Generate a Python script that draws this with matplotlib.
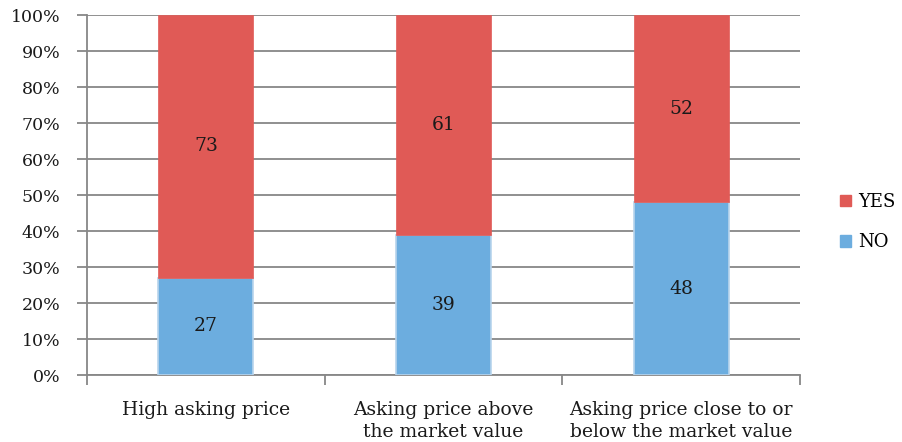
import matplotlib.pyplot as plt
import numpy as np
from matplotlib.patches import Patch

categories = ["High asking price", "Asking price above\nthe market value",
              "Asking price close to or\nbelow the market value"]
no_vals = [27, 39, 48]
yes_vals = [73, 61, 52]

red = "#E05A56"
blue = "#6CADDF"
grid_c = "#878787"
txt_c = "#1a1a1a"

plt.rcParams['font.family'] = ['DejaVu Serif']

fig = plt.figure(figsize=(9.02, 4.42), dpi=100)
ax = fig.add_axes([87/902, 1-375/442, (800-87)/902, 360/442])

x = np.arange(len(categories))
ax.bar(x, no_vals, width=0.4, color=blue, edgecolor="#B8D4EC", linewidth=1.2,
       zorder=3, label="NO")
ax.bar(x, yes_vals, width=0.4, bottom=no_vals, color=red, edgecolor=red,
       linewidth=0.5, zorder=3, label="YES")

for i in range(len(categories)):
    ax.text(x[i], no_vals[i] / 2, str(no_vals[i]), ha="center", va="center",
            fontsize=13.5, color=txt_c, zorder=4)
    ax.text(x[i], no_vals[i] + yes_vals[i] / 2, str(yes_vals[i]), ha="center",
            va="center", fontsize=13.5, color=txt_c, zorder=4)

ax.set_xlim(-0.5, 2.5)
ax.set_ylim(0, 100)
ax.set_yticks(np.arange(0, 101, 10))
ax.set_yticklabels([f"{v}%" for v in range(0, 101, 10)], fontsize=12.5, color=txt_c)
ax.yaxis.grid(True, color=grid_c, linewidth=1.3, zorder=0)
ax.set_axisbelow(True)

# category labels between boundary ticks
ax.set_xticks([-0.5, 0.5, 1.5, 2.5])
ax.set_xticklabels([])
ax.set_xticks(x, minor=True)
ax.set_xticklabels(categories, minor=True, fontsize=13.5, color=txt_c,
                   linespacing=1.25)
ax.tick_params(axis="x", which="minor", length=0, pad=19)
ax.tick_params(axis="x", which="major", length=7, width=1.3, color=grid_c)
ax.tick_params(axis="y", length=7, width=1.3, color=grid_c, pad=12)

for s in ["top", "right"]:
    ax.spines[s].set_visible(False)
for s in ["left", "bottom"]:
    ax.spines[s].set_color(grid_c)
    ax.spines[s].set_linewidth(1.3)

handles = [Patch(color=red, label="YES"), Patch(color=blue, label="NO")]
fig.legend(handles=handles, loc="center left", bbox_to_anchor=(824/902, 1-222/442),
           frameon=False, fontsize=13, handlelength=0.6, handleheight=0.6,
           handletextpad=0.4, labelspacing=1.25)

fig.savefig("out.png", dpi=100)
